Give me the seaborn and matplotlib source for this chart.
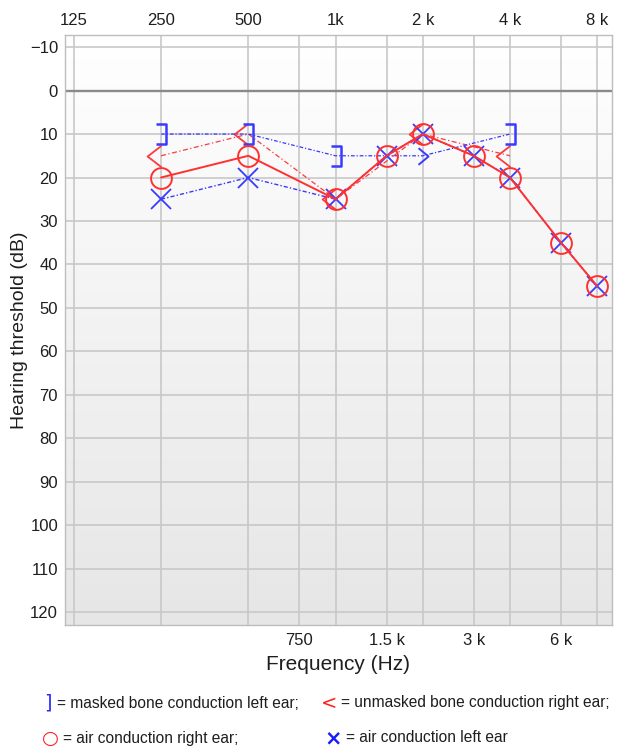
import numpy as np
import pandas as pd
import matplotlib
matplotlib.use("Agg")
import matplotlib.pyplot as plt
import seaborn as sns
from matplotlib.path import Path

# ---------------- data ----------------
freqs_air = [250, 500, 1000, 1500, 2000, 3000, 4000, 6000, 8000]
air_right = [20, 15, 25, 15, 10, 15, 20, 35, 45]
air_left = [25, 20, 25, 15, 10, 15, 20, 35, 45]

bone_right_freq = [250, 500, 1000, 2000, 4000]
bone_right = [15, 10, 25, 10, 15]

bone_left_freq = [250, 500, 1000, 1500, 2000, 4000]
bone_left = [10, 10, 15, 15, 15, 10]
bone_left_kind = ["masked", "masked", "masked", "none", "unmasked", "masked"]

top_ticks = [125, 250, 500, 1000, 2000, 4000, 8000]
top_labels = ["125", "250", "500", "1k", "2 k", "4 k", "8 k"]
bottom_ticks = [750, 1500, 3000, 6000]
bottom_labels = ["750", "1.5 k", "3 k", "6 k"]
y_ticks = list(range(-10, 121, 10))
y_labels = ["\u221210" if v < 0 else str(v) for v in y_ticks]

legend_items = [
    ("]", "= masked bone conduction left ear;", "#2b2bff"),
    ("<", "= unmasked bone conduction right ear;", "#ff2020"),
    ("\u25CB", "= air conduction right ear;", "#ff2020"),
    ("\u00D7", "= air conduction left ear", "#1a1aff"),
]

RED = "#ff3030"
BLUE = "#3a3aff"
TXT = "#1e1e1e"

# ---------------- style ----------------
sns.set_theme(style="white")
plt.rcParams["font.family"] = ["Liberation Sans", "DejaVu Sans"]

fig = plt.figure(figsize=(6.19, 7.47), dpi=100)
ax = fig.add_axes([65 / 619, 1 - 625 / 747, (612 - 65) / 619, (625 - 35) / 747])

# gradient background
grad = np.linspace(0, 1, 256).reshape(-1, 1)
ax.imshow(grad, extent=[0, 1, 0, 1], transform=ax.transAxes, aspect="auto",
          cmap=matplotlib.colors.LinearSegmentedColormap.from_list("g", ["#e6e6e6", "#ffffff"]),
          origin="lower", zorder=0)

ax.set_xscale("log")
ax.set_xlim(116.5, 9000)
ax.set_ylim(123, -12.8)

# grid lines
for f in top_ticks + bottom_ticks:
    ax.axvline(f, color="#c8c8c8", lw=1.2, zorder=1)
for v in y_ticks:
    if v == 0:
        ax.axhline(v, color="#8a8a8a", lw=1.7, zorder=1)
    else:
        ax.axhline(v, color="#c8c8c8", lw=1.2, zorder=1)

# markers
bracket = Path([(-0.5, 1), (0.5, 1), (0.5, -1), (-0.5, -1)])
less = Path([(0, 1), (-1.3, 0), (0, -1)])
greater = Path([(-0.6, 1), (0.6, 0), (-0.6, -1)])

dash_dot = (0, (3, 1.5, 1, 1.5))
dash_red = (0, (4, 2, 1, 2))

# red bone conduction (unmasked, right)
sns.lineplot(x=bone_right_freq, y=bone_right, ax=ax, color=RED, lw=0.9,
             linestyle=dash_red, marker=less, markersize=20, mfc="none",
             mec=RED, mew=1.3, zorder=3, alpha=0.95)

# blue bone conduction left line
sns.lineplot(x=bone_left_freq, y=bone_left, ax=ax, color=BLUE, lw=0.9,
             linestyle=dash_dot, zorder=3)
bl = pd.DataFrame({"f": bone_left_freq, "db": bone_left, "kind": bone_left_kind})
m = bl[bl.kind == "masked"]
u = bl[bl.kind == "unmasked"]
sns.lineplot(x=m.f.tolist(), y=m.db.tolist(), ax=ax, linestyle="none", marker=bracket,
             markersize=15, mfc="none", mec=BLUE, mew=1.8, zorder=4)
sns.lineplot(x=u.f.tolist(), y=u.db.tolist(), ax=ax, linestyle="none", marker=greater,
             markersize=12, mfc="none", mec=BLUE, mew=1.4, zorder=4)

# air conduction
sns.lineplot(x=freqs_air, y=air_left, ax=ax, color=BLUE, lw=1.0, linestyle=dash_dot,
             marker="x", markersize=15, mec=BLUE, mew=1.3, zorder=5)
sns.lineplot(x=freqs_air, y=air_right, ax=ax, color=RED, lw=1.4, linestyle="-",
             marker="o", markersize=15, mfc="none", mec=RED, mew=1.4, zorder=5)

# ticks
ax.set_xticks(bottom_ticks)
ax.set_xticklabels(bottom_labels)
ax.xaxis.set_minor_locator(matplotlib.ticker.NullLocator())
ax.tick_params(axis="x", which="both", length=0, pad=6, labelsize=12, colors=TXT)
ax.set_yticks(y_ticks)
ax.set_yticklabels(y_labels)
ax.tick_params(axis="y", length=0, pad=5, labelsize=12, colors=TXT)

sec = ax.secondary_xaxis("top")
sec.set_xticks(top_ticks)
sec.set_xticklabels(top_labels)
sec.xaxis.set_minor_locator(matplotlib.ticker.NullLocator())
sec.tick_params(which="both", length=0, pad=5, labelsize=12, colors=TXT)
sec.spines["top"].set_visible(False)

for s in ax.spines.values():
    s.set_color("#bdbdbd")
    s.set_linewidth(1)

ax.set_xlabel("Frequency (Hz)", fontsize=15, labelpad=5, color=TXT)
ax.set_ylabel("Hearing threshold (dB)", fontsize=14, labelpad=1, color=TXT)

# legend text
sym_pos = [(52, 703), (337, 703), (59, 738), (342, 738)]
txt_x = [57, 341, 63, 346]
for (sym, txt, col), (px, py), tx in zip(legend_items, sym_pos, txt_x):
    fy = 1 - py / 747
    fs = {"]": 14, "<": 14, "\u25CB": 14, "\u00D7": 15}[sym]
    fig.text(px / 619, fy, sym, color=col, fontsize=fs, va="center", ha="right",
             family=["DejaVu Sans"], fontweight="bold" if sym == "\u00D7" else "normal")
    fig.text(tx / 619, fy, txt, color=TXT, fontsize=11.2, va="center", ha="left")

fig.savefig("out.png", dpi=100)
